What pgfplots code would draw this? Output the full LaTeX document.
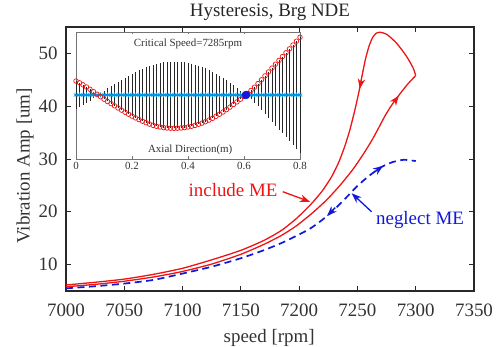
\documentclass[border=0pt]{standalone}
\usepackage{pgfplots}
\pgfplotsset{compat=1.18}
\usepackage{pgfplotstable}
\usepackage{fontspec}
\setmainfont{Liberation Serif}
\usetikzlibrary{arrows.meta}

\definecolor{mred}{RGB}{238,20,20}
\definecolor{mblue}{RGB}{15,25,215}
\definecolor{lblue}{RGB}{0,150,225}
\definecolor{axgray}{RGB}{40,40,40}

\pgfplotstableread{
x f
0.0000 1.40
0.0125 1.22
0.0250 1.02
0.0375 0.80
0.0500 0.57
0.0625 0.33
0.0750 0.08
0.0875 -0.17
0.1000 -0.42
0.1125 -0.65
0.1250 -0.87
0.1375 -1.08
0.1500 -1.30
0.1625 -1.51
0.1750 -1.72
0.1875 -1.92
0.2000 -2.11
0.2125 -2.29
0.2250 -2.46
0.2375 -2.62
0.2500 -2.77
0.2625 -2.91
0.2750 -3.03
0.2875 -3.13
0.3000 -3.20
0.3125 -3.26
0.3250 -3.30
0.3375 -3.32
0.3500 -3.33
0.3625 -3.32
0.3750 -3.30
0.3875 -3.26
0.4000 -3.20
0.4125 -3.13
0.4250 -3.04
0.4375 -2.93
0.4500 -2.81
0.4625 -2.67
0.4750 -2.51
0.4875 -2.33
0.5000 -2.13
0.5125 -1.92
0.5250 -1.70
0.5375 -1.46
0.5500 -1.21
0.5625 -0.95
0.5750 -0.69
0.5875 -0.42
0.6000 -0.14
0.6125 0.15
0.6250 0.45
0.6375 0.78
0.6500 1.14
0.6625 1.52
0.6750 1.91
0.6875 2.30
0.7000 2.69
0.7125 3.08
0.7250 3.46
0.7375 3.84
0.7500 4.22
0.7625 4.61
0.7750 5.00
0.7875 5.38
0.8000 5.77
}\modeshape

% run-up branch, include ME
\pgfplotstableread{
rpm amp
7000 5.81
7025 6.25
7050 6.85
7075 7.65
7100 8.70
7125 10.10
7150 11.95
7170 13.85
7185 15.55
7198 17.40
7212 19.90
7224 22.35
7235 25.00
7246 28.00
7255 30.90
7262 33.40
7268 35.80
7274 38.30
7280 40.40
7286 42.20
7293 44.15
7300 45.80
}\redup

% loop top and run-down branch, include ME
\pgfplotstableread{
rpm amp
7300.0 45.80
7297.9 47.18
7292.3 49.38
7283.7 51.91
7275.1 53.62
7269.4 54.00
7266.0 53.80
7263.0 53.00
7260.0 51.40
7257.0 49.00
7254.0 45.80
7251.0 42.40
7247.5 39.00
7243.5 35.50
7239.0 32.30
7234.0 29.40
7228.0 26.70
7220.0 24.00
7210.0 21.40
7198.0 18.80
7185.0 16.50
7170.0 14.60
7150.0 12.70
7125.0 10.90
7100.0 9.30
7075.0 8.15
7050.0 7.25
7025.0 6.65
7000.0 6.14
}\reddown

% neglect ME
\pgfplotstableread{
rpm amp
7000 5.50
7025 5.90
7050 6.40
7075 7.10
7100 8.30
7125 9.60
7150 11.20
7170 12.75
7185 14.10
7200 15.70
7210 16.90
7220 18.50
7230 20.40
7240 22.60
7250 24.90
7260 26.80
7270 28.40
7280 29.40
7290 29.85
7300 29.60
}\bluecurve

\begin{document}
\begin{tikzpicture}
\begin{axis}[
  name=main,
  scale only axis,
  width=408bp, height=264bp,
  xmin=7000, xmax=7350, ymin=5, ymax=55,
  xtick={7000,7050,...,7350},
  ytick={10,20,30,40,50},
  scaled x ticks=false,
  /pgf/number format/1000 sep={},
  /pgf/number format/assume math mode=true,
  tick align=inside,
  major tick length=5bp,
  axis line style={axgray, line width=1.1bp},
  every tick/.style={axgray, line width=0.9bp},
  tick label style={font=\fontsize{19}{19}\selectfont, text=black!80},
  xticklabel style={yshift=-9bp},
  yticklabel style={xshift=-5bp},
  label style={font=\fontsize{19}{19}\selectfont, text=black!80},
  title={Hysteresis, Brg NDE},
  title style={font=\fontsize{19}{19}\selectfont, text=black!85, at={(axis description cs:0.5,1.0)}, anchor=south, yshift=-3bp},
  xlabel={speed [rpm]},
  ylabel={Vibration Amp [um]},
  xlabel style={at={(axis description cs:0.498,-0.178)}, anchor=center},
  ylabel style={at={(axis description cs:-0.100,0.474)}, anchor=center},
  clip=false,
]
\addplot[mred, line width=1.3bp, smooth, tension=0.4, line join=round] table[x=rpm,y=amp] {\redup};
\addplot[mred, line width=1.3bp, smooth, tension=0.4, line join=round] table[x=rpm,y=amp] {\reddown};
\addplot[mblue, line width=1.7bp, dash pattern=on 7bp off 4.5bp, smooth, tension=0.4] table[x=rpm,y=amp] {\bluecurve};

% arrowheads on curves
\draw[mred, line width=1.3bp, -{Stealth[length=10bp,width=7.5bp]}] (axis cs:7253.4,45.0) -- (axis cs:7252.0,43.3);
\draw[mred, line width=1.3bp, -{Stealth[length=10bp,width=7.5bp]}] (axis cs:7281.5,40.8) -- (axis cs:7285.5,42.0);
\draw[mblue, line width=1.5bp, -{Stealth[length=10bp,width=7.5bp]}] (axis cs:7265.0,27.6) -- (axis cs:7272.0,28.7);
\draw[mblue, line width=1.5bp, -{Stealth[length=10bp,width=7.5bp]}] (axis cs:7231.0,20.8) -- (axis cs:7224.0,19.2);

% annotations
\draw[mred, line width=1.3bp, -{Stealth[length=10bp,width=7.5bp]}] (axis cs:7186.0,23.8) -- (axis cs:7209.3,21.9);
\node[mred, font=\fontsize{19}{19}\selectfont] at (axis cs:7143.3,24.1) {include ME};
\draw[mblue, line width=1.3bp, -{Stealth[length=10bp,width=7.5bp]}] (axis cs:7262.2,20.0) -- (axis cs:7245.1,23.5);
\node[mblue, font=\fontsize{19}{19}\selectfont] at (axis cs:7303.7,18.4) {neglect ME};
\end{axis}

\begin{axis}[
  at={(main.north west)}, anchor=north west, xshift=10bp, yshift=-5bp,
  scale only axis,
  width=224bp, height=127bp,
  xmin=0, xmax=0.8, ymin=-6.4, ymax=6.3,
  xtick={0,0.2,0.4,0.6,0.8},
  xticklabels={0,0.2,0.4,0.6,0.8},
  ytick=\empty,
  tick align=inside,
  major tick length=2.5bp,
  axis background/.style={fill=white},
  axis line style={black!55, line width=0.6bp},
  every tick/.style={black!55, line width=0.5bp},
  tick label style={font=\fontsize{11}{11}\selectfont, text=black!80},
  /pgf/number format/assume math mode=true,
  clip=false,
]
\addplot[ycomb, black!85, line width=0.9bp, mark=none] table[x=x,y=f] {\modeshape};
\addplot[ycomb, black!85, line width=0.9bp, mark=none] table[x=x,y expr=-\thisrow{f}] {\modeshape};
\addplot[lblue, line width=2.2bp, mark=asterisk, mark size=2.5bp, mark options={lblue, line width=0.7bp}] table[x=x,y expr=0*\thisrow{f}] {\modeshape};
\addplot[only marks, mark=o, mark size=2.3bp, mark options={mred, line width=0.7bp}] table[x=x,y=f] {\modeshape};
\addplot[only marks, mark=*, mark size=4bp, mark options={fill=mblue, draw=mblue}] coordinates {(0.607,0)};
\node[font=\fontsize{11}{11}\selectfont, text=black!80] at (rel axis cs:0.5,0.905) {Critical Speed=7285rpm};
\node[font=\fontsize{11}{11}\selectfont, text=black!80] at (rel axis cs:0.51,0.07) {Axial Direction(m)};
\end{axis}

\pgfresetboundingbox
\path[use as bounding box] ([shift={(-66bp,-56bp)}]main.south west) rectangle ([shift={(25bp,27bp)}]main.north east);
\end{tikzpicture}
\end{document}
